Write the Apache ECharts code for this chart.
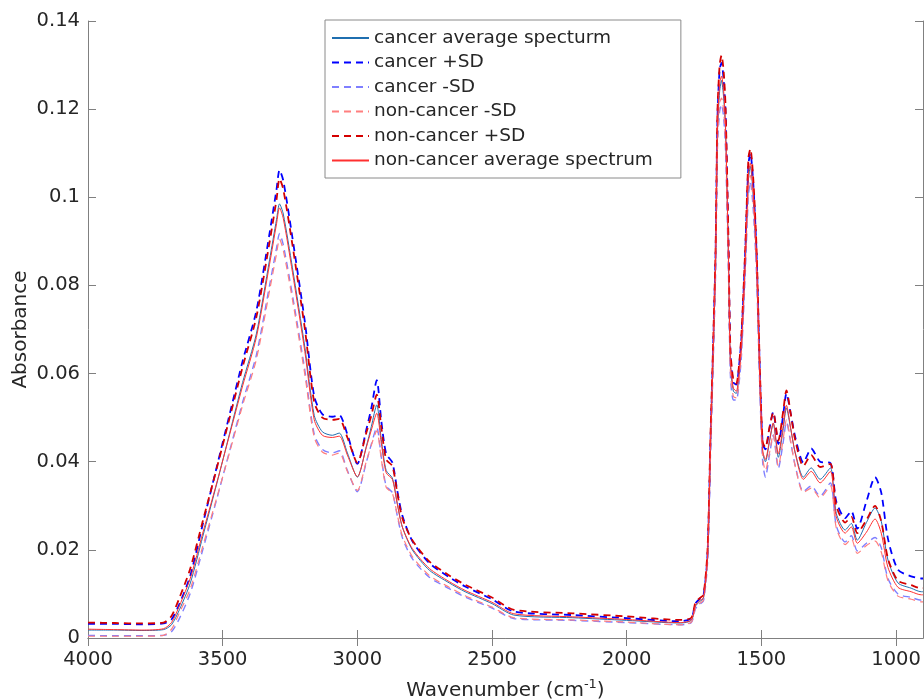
<!DOCTYPE html>
<html>
<head>
<meta charset="utf-8">
<script src="https://cdn.jsdelivr.net/npm/echarts@6/dist/echarts.min.js"></script>
<style>
html,body{margin:0;padding:0;background:#fff;}
#c{width:924px;height:699px;}
</style>
</head>
<body>
<div id="c"></div>
<script>
// Wavenumbers (cm^-1)
const wavenumbers = [4000,3900,3800,3720,3690,3660,3620,3574,3522,3474,3426,3375,3326,3300,3289,3275,3241,3195,3160,3130,3093,3067,3037,3000,2967,2948,2928,2911,2893,2870,2852,2833,2796,2733,2659,2600,2500,2419,2200,2000,1800,1760,1745,1730,1715,1700,1689,1680,1670,1663,1655,1648,1640,1633,1622,1615,1604,1593,1584,1574,1560,1548,1541,1530,1518,1511,1504,1495,1485,1470,1456,1437,1420,1407,1390,1374,1344,1315,1282,1244,1222,1189,1166,1144,1110,1078,1055,1030,993,944,907,900];

const cancerAvg = [.0018,.0018,.0017,.0019,.0030,.0065,.0125,.0230,.0350,.0465,.0580,.0690,.0858,.0950,.0985,.0962,.0840,.0660,.0505,.0468,.0460,.0465,.0420,.0365,.0434,.0480,.0529,.0450,.0380,.0363,.0306,.0252,.0200,.0154,.0125,.0105,.0078,.0052,.0046,.0040,.0034,.0040,.0072,.0082,.0090,.0180,.0430,.0620,.0850,.1150,.1240,.1265,.1225,.1150,.0850,.0620,.0560,.0555,.0590,.0660,.0850,.1040,.1070,.1000,.0850,.0700,.0550,.0420,.0400,.0445,.0487,.0410,.0470,.0522,.0470,.0420,.0365,.0386,.0360,.0386,.0283,.0245,.0260,.0222,.0262,.0295,.0265,.0177,.0125,.0113,.0105,.0105];

const cancerPlusSD = [.0032,.0032,.0031,.0033,.0042,.0078,.0142,.0258,.0388,.0508,.0628,.0742,.0918,.1018,.1062,.1038,.0908,.0718,.0548,.0508,.0502,.0506,.0462,.0395,.0472,.0522,.0585,.0492,.0418,.0398,.0335,.0278,.0220,.0170,.0138,.0117,.0088,.0060,.0052,.0045,.0038,.0045,.0078,.0088,.0096,.0190,.0445,.0640,.0875,.1180,.1290,.1305,.1265,.1190,.0880,.0645,.0580,.0575,.0610,.0682,.0875,.1075,.1100,.1030,.0875,.0722,.0570,.0440,.0428,.0475,.0513,.0440,.0502,.0555,.0505,.0455,.0398,.0430,.0400,.0397,.0310,.0272,.0288,.0248,.0310,.0365,.0330,.0225,.0155,.0140,.0135,.0135];

const cancerMinusSD = [.0006,.0005,.0005,.0006,.0014,.0045,.0102,.0200,.0315,.0425,.0535,.0642,.0800,.0885,.0918,.0892,.0778,.0608,.0462,.0428,.0420,.0425,.0380,.0332,.0398,.0440,.0478,.0410,.0345,.0330,.0278,.0228,.0180,.0138,.0112,.0093,.0068,.0044,.0040,.0035,.0030,.0035,.0066,.0076,.0084,.0170,.0415,.0600,.0825,.1115,.1195,.1210,.1180,.1105,.0820,.0595,.0540,.0540,.0572,.0640,.0825,.1005,.1035,.0970,.0825,.0678,.0530,.0398,.0365,.0415,.0460,.0385,.0440,.0490,.0440,.0390,.0332,.0345,.0322,.0352,.0255,.0218,.0232,.0198,.0215,.0228,.0205,.0135,.0100,.0092,.0086,.0086];

const nonCancerMinusSD = [.0004,.0004,.0004,.0006,.0020,.0058,.0112,.0208,.0318,.0422,.0528,.0632,.0788,.0872,.0905,.0880,.0768,.0598,.0455,.0422,.0415,.0420,.0378,.0335,.0400,.0438,.0470,.0405,.0342,.0328,.0280,.0232,.0185,.0142,.0115,.0096,.0070,.0046,.0041,.0036,.0030,.0036,.0068,.0078,.0086,.0178,.0425,.0615,.0840,.1130,.1215,.1225,.1195,.1120,.0830,.0605,.0548,.0545,.0580,.0650,.0838,.1020,.1050,.0985,.0838,.0690,.0540,.0408,.0380,.0420,.0462,.0390,.0448,.0495,.0442,.0388,.0330,.0340,.0318,.0345,.0250,.0212,.0225,.0192,.0210,.0220,.0195,.0130,.0095,.0088,.0082,.0082];

const nonCancerPlusSD = [.0035,.0034,.0033,.0035,.0050,.0092,.0158,.0265,.0385,.0500,.0615,.0728,.0898,.0995,.1042,.1018,.0892,.0702,.0535,.0500,.0495,.0497,.0455,.0398,.0465,.0505,.0552,.0478,.0405,.0390,.0330,.0272,.0222,.0174,.0142,.0121,.0092,.0064,.0056,.0049,.0041,.0046,.0080,.0090,.0098,.0200,.0460,.0650,.0885,.1195,.1300,.1322,.1285,.1205,.0895,.0655,.0585,.0578,.0612,.0690,.0882,.1090,.1110,.1040,.0885,.0730,.0578,.0445,.0432,.0478,.0512,.0448,.0510,.0562,.0505,.0448,.0390,.0415,.0388,.0395,.0300,.0262,.0275,.0238,.0268,.0300,.0265,.0180,.0130,.0120,.0113,.0113];

const nonCancerAvg = [.0020,.0019,.0018,.0021,.0035,.0074,.0136,.0238,.0352,.0462,.0572,.0682,.0848,.0940,.0976,.0952,.0830,.0650,.0495,.0460,.0455,.0458,.0415,.0366,.0432,.0472,.0510,.0442,.0375,.0360,.0305,.0252,.0203,.0158,.0128,.0108,.0081,.0055,.0048,.0042,.0035,.0041,.0074,.0084,.0092,.0188,.0442,.0632,.0862,.1165,.1258,.1275,.1240,.1160,.0862,.0630,.0567,.0560,.0595,.0668,.0858,.1055,.1078,.1010,.0860,.0710,.0558,.0425,.0405,.0448,.0488,.0418,.0478,.0528,.0472,.0418,.0360,.0378,.0352,.0378,.0275,.0238,.0252,.0215,.0240,.0270,.0238,.0160,.0115,.0105,.0098,.0098];

const seriesNames = ['cancer average specturm','cancer +SD','cancer -SD','non-cancer -SD','non-cancer +SD','non-cancer average spectrum'];
const seriesValues = [cancerAvg, cancerPlusSD, cancerMinusSD, nonCancerMinusSD, nonCancerPlusSD, nonCancerAvg];
const xTicks = [1000,1500,2000,2500,3000,3500,4000];
const yTicks = [0,0.02,0.04,0.06,0.08,0.1,0.12,0.14];

const styles = [
  {color:'#1f6fb0', width:1, type:'solid'},
  {color:'#0000ff', width:1.8, type:[7,5]},
  {color:'#7f7fff', width:1.4, type:[7,5]},
  {color:'#ff7f7f', width:1.2, type:[7,5]},
  {color:'#d40000', width:1.8, type:[7,5]},
  {color:'#ff3030', width:1, type:'solid'}
];

const FONT = 'DejaVu Sans';
const TXT = '#262626';
const AX = '#808080';

const series = seriesNames.map((n,i)=>({
  name:n, type:'line', xAxisIndex:0, yAxisIndex:0,
  data: wavenumbers.map((w,j)=>[w, seriesValues[i][j]]),
  showSymbol:false, symbol:'none', smooth:0.25,
  lineStyle:{color:styles[i].color, width:styles[i].width, type:styles[i].type},
  itemStyle:{color:styles[i].color},
  animation:false, z: 2+i
}));

const chart = echarts.init(document.getElementById('c'), null, {renderer:'canvas'});
chart.setOption({
  animation:false,
  backgroundColor:'#fff',
  textStyle:{fontFamily:FONT},
  grid:{left:88, top:21, right:1, bottom:61, containLabel:false, outerBoundsMode:'none'},
  legend:{
    data:seriesNames, orient:'vertical', left:325, top:20,
    padding:[8.5,28,8,6], itemWidth:37, itemHeight:14, itemGap:5.5,
    backgroundColor:'#fff', borderColor:'#8a8a8a', borderWidth:1,
    itemStyle:{opacity:0},
    textStyle:{fontFamily:FONT, fontSize:18.5, color:TXT},
    selectedMode:false
  },
  xAxis:[{
    type:'value', min:900, max:4000, inverse:true, position:'bottom',
    name:'{a|Wavenumber (cm}{s|-1}{a|)}', nameLocation:'middle', nameGap:40,
    nameTextStyle:{rich:{a:{fontFamily:FONT, fontSize:20, color:TXT}, s:{fontFamily:FONT, fontSize:13, color:TXT, verticalAlign:'top', padding:[0,0,12,0]}}},
    axisLine:{show:true, lineStyle:{color:AX, width:1}},
    axisTick:{show:true, inside:true, length:8, lineStyle:{color:AX}, customValues:xTicks},
    axisLabel:{show:true, color:TXT, fontFamily:FONT, fontSize:19.5, margin:12, customValues:xTicks, formatter:v=>String(v)},
    splitLine:{show:false}
  },{
    type:'value', min:900, max:4000, inverse:true, position:'top',
    axisLine:{show:true, lineStyle:{color:AX, width:1}},
    axisTick:{show:true, inside:true, length:8, lineStyle:{color:AX}, customValues:xTicks},
    axisLabel:{show:false}, splitLine:{show:false}
  }],
  yAxis:[{
    type:'value', min:0, max:0.14, interval:0.02, position:'left',
    name:'Absorbance', nameLocation:'middle', nameGap:57, nameRotate:90, nameMoveOverlap:false,
    nameTextStyle:{fontFamily:FONT, fontSize:20, color:TXT},
    axisLine:{show:true, lineStyle:{color:AX, width:1}},
    axisTick:{show:true, inside:true, length:8, lineStyle:{color:AX}},
    axisLabel:{show:true, color:TXT, fontFamily:FONT, fontSize:19.5, margin:8,
      formatter:v=>String(+(+v).toFixed(2))},
    splitLine:{show:false}
  },{
    type:'value', min:0, max:0.14, interval:0.02, position:'right',
    axisLine:{show:true, lineStyle:{color:AX, width:1}},
    axisTick:{show:true, inside:true, length:8, lineStyle:{color:AX}},
    axisLabel:{show:false}, splitLine:{show:false}
  }],
  series: series
});
</script>
</body>
</html>
